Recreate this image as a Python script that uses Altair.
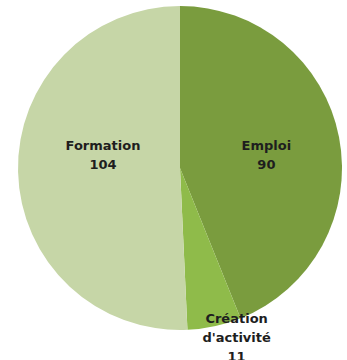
import altair as alt
import pandas as pd

categories = ["Emploi", "Création d'activité", "Formation"]
values = [90, 11, 104]
label_lines = [["Emploi", "90"], ["Création", "d'activité", "11"], ["Formation", "104"]]
colors = ["#7a9c3e", "#8fbb4a", "#c6d6a7"]

df = pd.DataFrame({
    "cat": categories,
    "value": values,
    "rank": list(range(len(categories))),
    "label": ["\n".join(l) for l in label_lines],
})
total = sum(values)

CX, CY, R = 180, 168, 162
theta_scale = alt.Scale(domain=[0, total])

pie = alt.Chart(df).mark_arc(outerRadius=R).encode(
    theta=alt.Theta("value:Q", stack=True, scale=theta_scale),
    order=alt.Order("rank:Q"),
    color=alt.Color("cat:N", scale=alt.Scale(domain=categories, range=colors), legend=None),
    x=alt.value(CX),
    y=alt.value(CY),
)

def label_layer(cat, radius, dx, dy):
    return alt.Chart(df).transform_window(
        cum="sum(value)", sort=[alt.SortField("rank")]
    ).transform_calculate(
        mid="datum.cum - datum.value / 2"
    ).transform_filter(
        alt.datum.cat == cat
    ).mark_text(
        font="DejaVu Sans", fontWeight="bold", fontSize=13, lineHeight=19,
        color="#1e1e1e", align="center", baseline="middle", lineBreak="\n",
        radius=radius, dx=dx, dy=dy,
    ).encode(
        theta=alt.Theta("mid:Q", scale=theta_scale),
        text="label:N",
        x=alt.value(CX),
        y=alt.value(CY),
    )

chart = alt.layer(
    pie,
    label_layer("Emploi", 88, 0, -5),
    label_layer("Création d'activité", 172, 20, -17),
    label_layer("Formation", 77, 0, -24),
).properties(
    width=347, height=360, autosize=alt.AutoSizeParams(type="none"), padding=0,
    background="white",
).configure_view(stroke=None)

chart.save("out.html", embed_options={"renderer": "svg", "actions": False})
